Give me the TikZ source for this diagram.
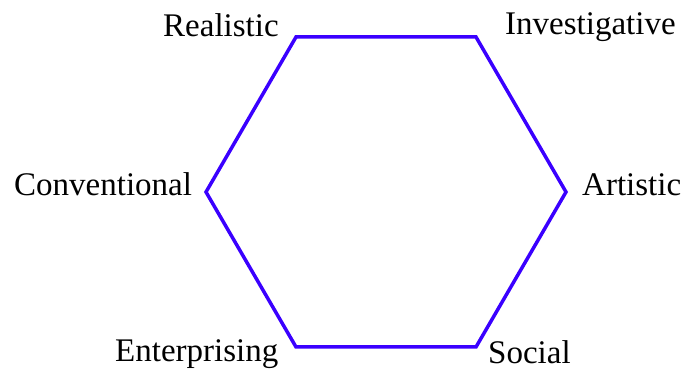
\documentclass[tikz,border=0pt]{standalone}
\usepackage{fontspec}
\setmainfont{Liberation Serif}
\definecolor{hexblue}{RGB}{58,0,255}
\begin{document}
\begin{tikzpicture}[x=1pt,y=1pt,
  lab/.style={inner sep=0pt,anchor=base west,font=\fontsize{33}{40}\selectfont},
  hex/.style={draw=hexblue,line width=3.5pt,line join=miter}]
\useasboundingbox (0,0) rectangle (683,372);
\coordinate (tl) at (296,335);
\coordinate (tr) at (476,335);
\coordinate (r) at (566,180);
\coordinate (br) at (476,25);
\coordinate (bl) at (296,25);
\coordinate (l) at (206,180);
\draw[hex] (tl) -- (tr) -- (r) -- (br) -- (bl) -- (l) -- cycle;
\node[lab] (real) at (163,335) {Realistic};
\node[lab] (inv) at (505,337) {Investigative};
\node[lab] (conv) at (14,176) {Conventional};
\node[lab] (art) at (582,176) {Artistic};
\node[lab] (ent) at (115,10) {Enterprising};
\node[lab] (soc) at (488,8) {Social};
\end{tikzpicture}
\end{document}
